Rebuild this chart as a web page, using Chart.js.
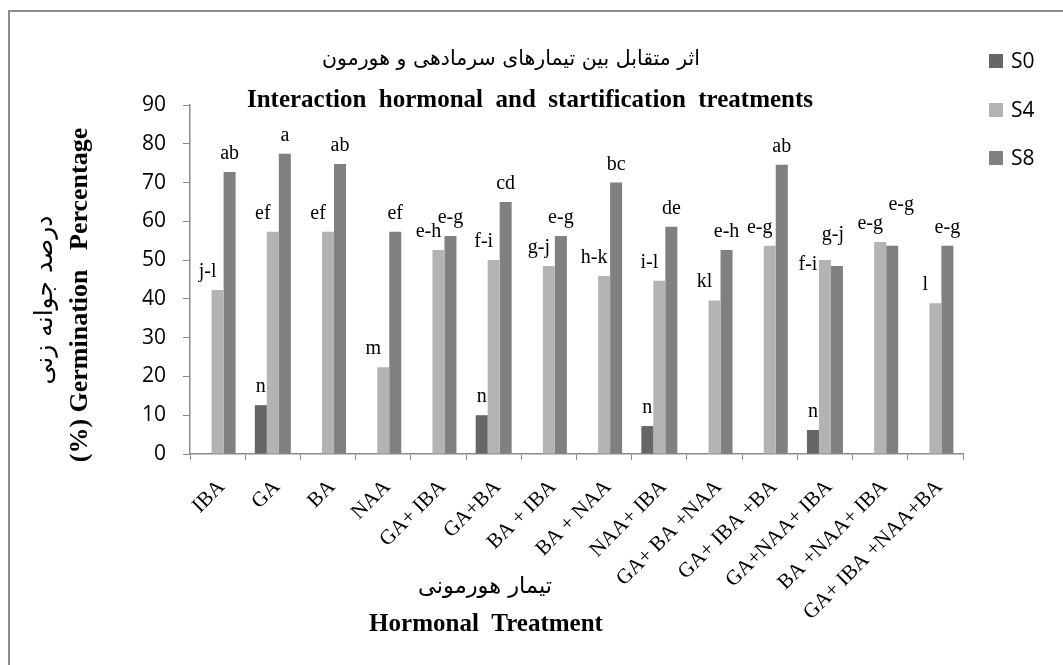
<!DOCTYPE html>
<html><head><meta charset="utf-8">
<script src="https://cdn.jsdelivr.net/npm/chart.js@4.4.1/dist/chart.umd.min.js"></script>
<style>html,body{margin:0;padding:0;background:#fff;} canvas{display:block;}</style>
</head><body>
<canvas id="c" width="1063" height="665"></canvas>
<script>
const categories = ['IBA', 'GA', 'BA', 'NAA', 'GA+ IBA', 'GA+BA', 'BA + IBA', 'BA + NAA', 'NAA+ IBA', 'GA+ BA +NAA', 'GA+ IBA +BA', 'GA+NAA+ IBA', 'BA +NAA+ IBA', 'GA+ IBA +NAA+BA'];
const seriesNames = ['S0', 'S4', 'S8'];
const s0Values = [0, 12.6, 0, 0, 0, 10.0, 0, 0, 7.2, 0, 0, 6.2, 0, 0];
const s4Values = [42.3, 57.3, 57.3, 22.4, 52.6, 50.0, 48.5, 45.9, 44.7, 39.6, 53.7, 50.0, 54.7, 38.9];
const s8Values = [72.7, 77.4, 74.8, 57.3, 56.2, 65.0, 56.2, 70.0, 58.6, 52.6, 74.6, 48.5, 53.7, 53.7];
const s0Letters = ['', 'n', '', '', '', 'n', '', '', 'n', '', '', 'n', '', ''];
const s4Letters = ['j-l', 'ef', 'ef', 'm', 'e-h', 'f-i', 'g-j', 'h-k', 'i-l', 'kl', 'e-g', 'f-i', 'e-g', 'l'];
const s8Letters = ['ab', 'a', 'ab', 'ef', 'e-g', 'cd', 'e-g', 'bc', 'de', 'e-h', 'ab', 'g-j', 'e-g', 'e-g'];
const yTickValues = [0, 10, 20, 30, 40, 50, 60, 70, 80, 90];

const titleFa = 'اثر متقابل بین تیمارهای سرمادهی و هورمون';
const titleEn = 'Interaction  hormonal  and  startification  treatments';
const xTitleFa = 'تیمار هورمونی';
const xTitleEn = 'Hormonal  Treatment';
const yTitleFa = 'درصد جوانه زنی';
const yTitleEn = '(%) Germination   Percentage';

const colors = ['#666666', '#b3b3b3', '#808080'];
const letterSets = [s0Letters, s4Letters, s8Letters];
// small style nudges for letter placement [dx, dy]
const letterShift = [0, -10, 0];
const letterNudge = { '11:1': [-7, 23], '11:2': [-4, -13], '12:2': [9, -23] };

const decor = {
  id: 'decor',
  beforeDraw(chart) {
    const ctx = chart.ctx;
    ctx.save();
    ctx.fillStyle = '#fff';
    ctx.fillRect(0, 0, chart.width, chart.height);
    ctx.strokeStyle = '#8c8c8c';
    ctx.lineWidth = 2;
    ctx.strokeRect(9, 11, 1200, 900);
    ctx.restore();
  },
  afterDatasetsDraw(chart) {
    const ctx = chart.ctx;
    ctx.save();
    ctx.fillStyle = '#000';
    ctx.font = '20px "Liberation Serif"';
    ctx.textAlign = 'center';
    ctx.textBaseline = 'alphabetic';
    chart.data.datasets.forEach((ds, i) => {
      const meta = chart.getDatasetMeta(i);
      meta.data.forEach((el, j) => {
        const t = letterSets[i][j];
        if (!t) return;
        const n = letterNudge[j + ':' + i] || [0, 0];
        ctx.fillText(t, el.x + letterShift[i] + n[0], el.y - 13 + n[1]);
      });
    });
    ctx.restore();
  },
  afterDraw(chart) {
    const ctx = chart.ctx;
    ctx.save();
    ctx.fillStyle = '#000';
    ctx.textAlign = 'center';
    ctx.textBaseline = 'middle';
    ctx.font = '20.5px "DejaVu Sans"';
    ctx.fillText(titleFa, 511, 60);
    ctx.font = 'bold 25px "Liberation Serif"';
    ctx.fillText(titleEn, 530, 101);
    ctx.font = '22.5px "DejaVu Sans"';
    ctx.fillText(xTitleFa, 485, 587);
    ctx.font = 'bold 25px "Liberation Serif"';
    ctx.fillText(xTitleEn, 486, 625);
    ctx.save();
    ctx.translate(45, 300);
    ctx.rotate(-Math.PI / 2);
    ctx.font = '25px "DejaVu Sans"';
    ctx.fillText(yTitleFa, 0, 0);
    ctx.restore();
    ctx.save();
    ctx.translate(80, 295);
    ctx.rotate(-Math.PI / 2);
    ctx.font = 'bold 26px "Liberation Serif"';
    ctx.fillText(yTitleEn, 0, 0);
    ctx.restore();
    // legend
    ctx.textAlign = 'left';
    ctx.font = '21px "Open Sans"';
    const ly = [61, 110, 158];
    seriesNames.forEach((nm, i) => {
      ctx.fillStyle = colors[i];
      ctx.fillRect(989, ly[i] - 7, 14, 14);
      ctx.fillStyle = '#000';
      ctx.fillText(nm, 1011, ly[i] + 1);
    });
    ctx.restore();
  }
};

new Chart(document.getElementById('c'), {
  type: 'bar',
  data: {
    labels: categories,
    datasets: [
      { label: seriesNames[0], data: s0Values, backgroundColor: colors[0] },
      { label: seriesNames[1], data: s4Values, backgroundColor: colors[1] },
      { label: seriesNames[2], data: s8Values, backgroundColor: colors[2] }
    ]
  },
  options: {
    responsive: false,
    animation: false,
    devicePixelRatio: 1,
    layout: { padding: { top: 105, right: 100, left: 0, bottom: 0 } },
    datasets: { bar: { categoryPercentage: 0.652, barPercentage: 1.0, borderWidth: 0 } },
    plugins: { legend: { display: false }, tooltip: { enabled: false }, title: { display: false } },
    scales: {
      x: {
        grid: { display: true, drawOnChartArea: false, drawTicks: true, tickLength: 6, color: '#8c8c8c', offset: true },
        border: { display: true, color: '#8c8c8c', width: 1.5 },
        ticks: { font: { family: 'Liberation Serif', size: 21 }, color: '#000', minRotation: 45, maxRotation: 45, autoSkip: false, labelOffset: 4, padding: 15 },
        afterFit(s) { s.height = 211; }
      },
      y: {
        min: 0, max: 90,
        afterBuildTicks(s) { s.ticks = yTickValues.map(v => ({ value: v })); },
        grid: { display: true, drawOnChartArea: false, drawTicks: true, tickLength: 7, color: '#8c8c8c' },
        border: { display: true, color: '#8c8c8c', width: 1.5 },
        ticks: { font: { family: 'Open Sans', size: 21 }, color: '#000', padding: 17 },
        afterFit(s) { s.width = 190; }
      }
    }
  },
  plugins: [decor]
});
</script>
</body></html>
